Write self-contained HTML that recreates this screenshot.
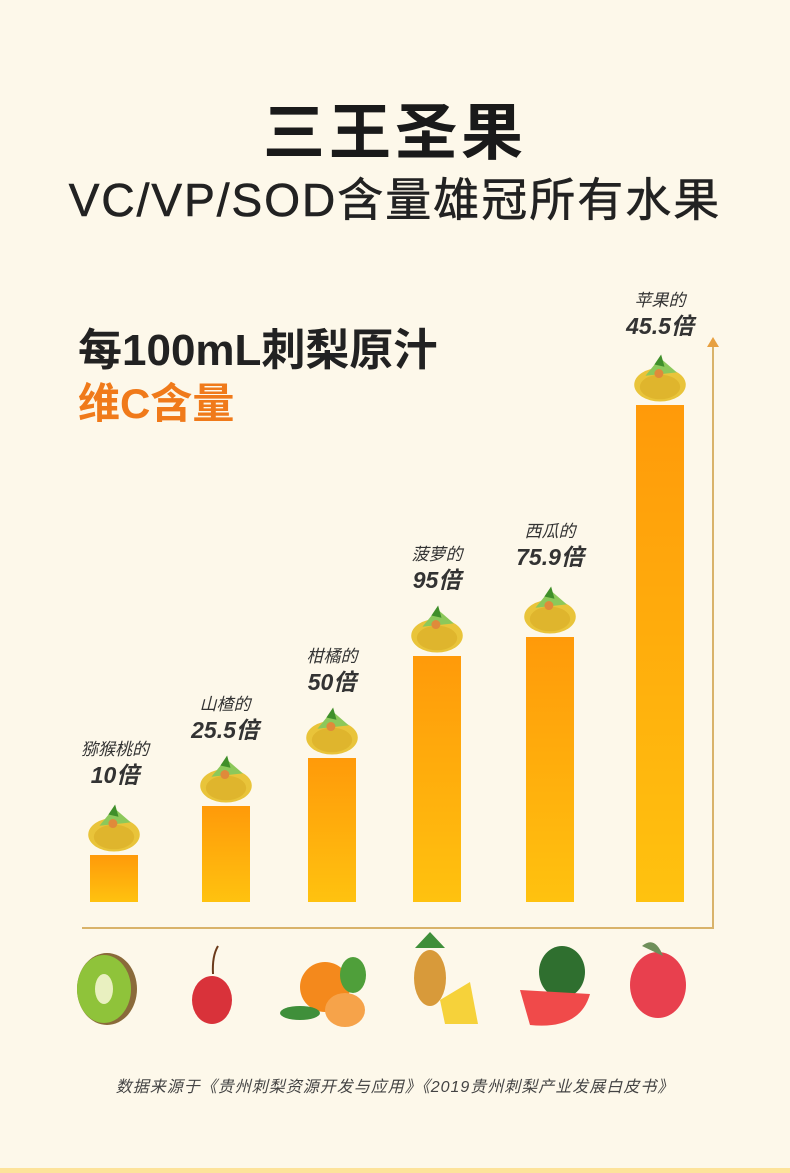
<!DOCTYPE html>
<html><head><meta charset="utf-8"><style>
*{margin:0;padding:0}
body{width:790px;height:1173px;background:#fdf8ea;position:relative;overflow:hidden;font-family:"Liberation Sans","Noto Sans CJK SC",sans-serif}
.a{position:absolute;white-space:nowrap}
.bar{position:absolute;bottom:271px;width:48px;background:linear-gradient(#ff9a0a,#ffc20f)}
.lab{position:absolute;transform:translateX(-50%);text-align:center;font-style:italic;color:#333;white-space:nowrap}
.lab .s{font-size:17px;line-height:22px}
.lab .b{font-size:23px;font-weight:bold;line-height:28px}
.pp{position:absolute;width:56px;height:50px}
</style></head><body>
<div class="a" style="left:0;width:790px;top:82px;text-align:center;font-size:62px;font-weight:bold;color:#1a1a1a;letter-spacing:4px">三王圣果</div>
<div class="a" style="left:0;width:790px;top:164px;text-align:center;font-size:46px;color:#222;letter-spacing:2px;-webkit-text-stroke:0.6px #222">VC/VP/SOD含量雄冠所有水果</div>
<div class="a" style="left:78px;top:314px;font-size:44px;font-weight:bold;color:#222">每100mL刺梨原汁</div>
<div class="a" style="left:78px;top:370px;font-size:42px;font-weight:bold;color:#f07a1a">维C含量</div>

<div class="a" style="left:712px;top:345px;width:2px;height:584px;background:#d9b36a"></div>
<div class="a" style="left:707px;top:337px;width:0;height:0;border-left:6px solid transparent;border-right:6px solid transparent;border-bottom:10px solid #e7a040"></div>
<div class="a" style="left:82px;top:927px;width:632px;height:2px;background:#d9b36a"></div>

<div class="bar" style="left:90px;height:47px"></div>
<div class="bar" style="left:202px;height:96px"></div>
<div class="bar" style="left:308px;height:144px"></div>
<div class="bar" style="left:413px;height:246px"></div>
<div class="bar" style="left:526px;height:265px"></div>
<div class="bar" style="left:636px;height:497px"></div>

<div class="lab" style="left:115px;top:739px"><div class="s">猕猴桃的</div><div class="b">10倍</div></div>
<div class="lab" style="left:225px;top:694px"><div class="s">山楂的</div><div class="b">25.5倍</div></div>
<div class="lab" style="left:332px;top:646px"><div class="s">柑橘的</div><div class="b">50倍</div></div>
<div class="lab" style="left:437px;top:544px"><div class="s">菠萝的</div><div class="b">95倍</div></div>
<div class="lab" style="left:550px;top:521px"><div class="s">西瓜的</div><div class="b">75.9倍</div></div>
<div class="lab" style="left:660px;top:290px"><div class="s">苹果的</div><div class="b">45.5倍</div></div>

<svg width="0" height="0" style="position:absolute"><defs>
<symbol id="p" viewBox="0 0 50 44"><ellipse cx="25" cy="28" rx="23" ry="15" fill="#e9c43a"/><ellipse cx="25" cy="30" rx="18" ry="11" fill="#d8ac25" opacity=".6"/><path d="M12 20 L25 4 L40 17 Z" fill="#8cc85a"/><path d="M20 10 L26 1 L29 12Z" fill="#3f8f2a"/><circle cx="24" cy="18" r="4" fill="#e08a3a"/></symbol>
</defs></svg>
<svg class="pp" style="left:86px;top:803px"><use href="#p"/></svg>
<svg class="pp" style="left:198px;top:754px"><use href="#p"/></svg>
<svg class="pp" style="left:304px;top:706px"><use href="#p"/></svg>
<svg class="pp" style="left:409px;top:604px"><use href="#p"/></svg>
<svg class="pp" style="left:522px;top:585px"><use href="#p"/></svg>
<svg class="pp" style="left:632px;top:353px"><use href="#p"/></svg>

<svg class="a" style="left:0;top:930px" width="790" height="100">
<ellipse cx="107" cy="59" rx="30" ry="36" fill="#8a6a3a"/><ellipse cx="104" cy="59" rx="27" ry="34" fill="#8fc33a"/><ellipse cx="104" cy="59" rx="9" ry="15" fill="#e9f0c0"/>
<path d="M218 16 Q212 26 213 44" stroke="#6b3a1a" stroke-width="2" fill="none"/><ellipse cx="212" cy="70" rx="20" ry="24" fill="#d9323a"/>
<circle cx="325" cy="57" r="25" fill="#f4891c"/><ellipse cx="300" cy="83" rx="20" ry="7" fill="#3f8f3a"/><ellipse cx="353" cy="45" rx="13" ry="18" fill="#4f9f3a"/><ellipse cx="345" cy="80" rx="20" ry="17" fill="#f6a34a"/>
<ellipse cx="430" cy="48" rx="16" ry="28" fill="#d89a3a"/><path d="M415 18 L430 2 L445 18Z" fill="#3f8f3a"/><path d="M440 70 L470 52 L478 94 L445 94Z" fill="#f6d23a"/>
<ellipse cx="562" cy="42" rx="23" ry="26" fill="#2f6f2f"/><path d="M520 60 L590 64 Q580 100 530 95 Z" fill="#f04a4a"/>
<ellipse cx="658" cy="55" rx="28" ry="33" fill="#e8404e"/><path d="M642 16 Q655 5 663 26" fill="#6f8f5a"/>
</svg>

<div class="a" style="left:0;width:790px;top:1073px;text-align:center;font-size:16px;font-style:italic;color:#444;letter-spacing:1px">数据来源于《贵州刺梨资源开发与应用》《2019贵州刺梨产业发展白皮书》</div>
<div class="a" style="left:0;top:1168px;width:790px;height:5px;background:#fde39a"></div>
</body></html>
